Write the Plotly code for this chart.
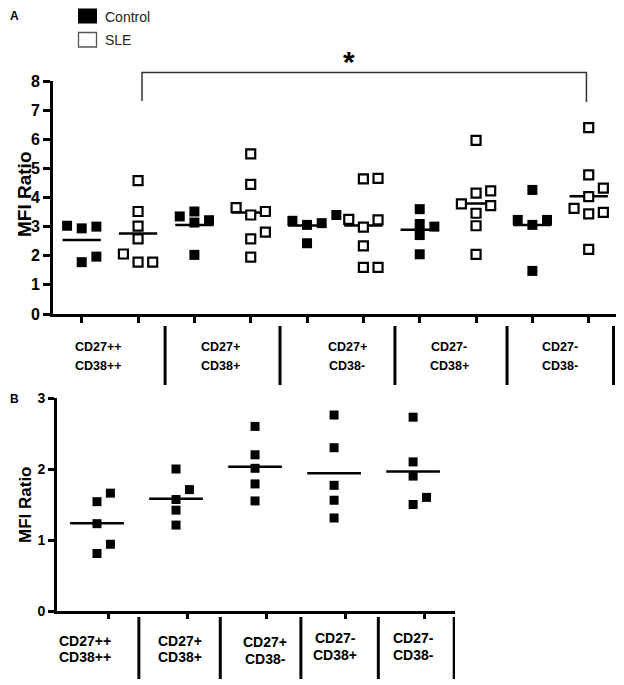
import plotly.graph_objects as go

# ---------------- data ----------------
cat_line1 = ["CD27++", "CD27+", "CD27+", "CD27-", "CD27-"]
cat_line2 = ["CD38++", "CD38+", "CD38-", "CD38+", "CD38-"]

# Panel A: MFI ratio, Control vs SLE, per subset
a_control = [
    [3.00, 2.94, 3.03, 1.78, 1.97],
    [3.22, 3.52, 3.14, 3.35, 2.03],
    [3.12, 3.40, 3.06, 3.20, 2.43],
    [3.60, 3.00, 2.71, 3.09, 2.05],
    [4.26, 3.23, 3.06, 3.23, 1.48],
]
a_sle = [
    [3.02, 4.58, 3.52, 2.58, 2.06, 1.78, 1.78],
    [3.65, 5.50, 4.45, 3.40, 3.52, 2.81, 2.58, 1.95],
    [4.66, 4.64, 3.23, 2.98, 3.25, 2.34, 1.60, 1.60],
    [5.96, 4.15, 4.23, 3.78, 3.72, 3.46, 3.03, 2.05],
    [6.40, 4.78, 4.32, 4.03, 3.63, 3.49, 3.44, 2.22],
]
# Panel B: MFI ratio per subset
b_vals = [
    [0.81, 0.94, 1.23, 1.54, 1.66],
    [1.57, 2.00, 1.71, 1.42, 1.21],
    [2.60, 2.20, 2.01, 1.79, 1.55],
    [2.76, 2.30, 1.77, 1.56, 1.31],
    [2.73, 2.10, 1.90, 1.60, 1.50],
]
a_yticks = list(range(0, 9))
b_yticks = list(range(0, 4))

# page body has an 8px margin: the figure occupies the rest of the 624x685 window
OFF = 8
W, H = 624 - OFF, 685 - OFF
FONT = "Liberation Sans, Arial, Helvetica, sans-serif"


def swarm(vals, thresh):
    """Column-scatter slots: points that would overlap get pushed sideways."""
    order = sorted(range(len(vals)), key=lambda i: vals[i])
    slots = [0] * len(vals)
    placed = []
    for i in order:
        for s in (0, 1, -1, 2, -2):
            if all(not (ps == s and abs(pv - vals[i]) < thresh) for pv, ps in placed):
                slots[i] = s
                placed.append((vals[i], s))
                break
    return slots


def mean(v):
    return sum(v) / len(v)


fig = go.Figure()

# ---------- Panel A ----------
A_OFF, A_THR, A_HALF = 0.26, 0.36, 0.34
for g in range(5):
    for k, (vals, filled) in enumerate([(a_control[g], True), (a_sle[g], False)]):
        cx = 2 * g + 1 + k
        m = mean(vals)
        fig.add_trace(go.Scatter(x=[cx - A_HALF, cx + A_HALF], y=[m, m], mode="lines",
                                 line=dict(color="black", width=2.5), xaxis="x", yaxis="y",
                                 showlegend=False, hoverinfo="skip"))
        slots = swarm(vals, A_THR)
        fig.add_trace(go.Scatter(
            x=[cx + s * A_OFF for s in slots], y=vals, mode="markers", xaxis="x", yaxis="y",
            showlegend=False,
            marker=dict(symbol="square", size=10 if filled else 9,
                        color="black" if filled else "white",
                        line=dict(color="black", width=0 if filled else 2.2))))

# ---------- Panel B ----------
B_OFF, B_THR, B_HALF = 0.17, 0.14, 0.34
for g in range(5):
    vals = b_vals[g]
    cx = g + 1
    m = mean(vals)
    fig.add_trace(go.Scatter(x=[cx - B_HALF, cx + B_HALF], y=[m, m], mode="lines",
                             line=dict(color="black", width=2.5), xaxis="x2", yaxis="y2",
                             showlegend=False, hoverinfo="skip"))
    slots = swarm(vals, B_THR)
    fig.add_trace(go.Scatter(
        x=[cx + s * B_OFF for s in slots], y=vals, mode="markers", xaxis="x2", yaxis="y2",
        showlegend=False, marker=dict(symbol="square", size=9, color="black")))


def px_x(p):
    return (p - OFF) / W


def px_y(p):
    return 1 - (p - OFF) / H


axis_common = dict(showline=True, linecolor="black", linewidth=3, showgrid=False,
                   zeroline=False, ticks="outside", tickcolor="black", mirror=False,
                   automargin=False)

fig.update_layout(
    width=W, height=H, margin=dict(l=0, r=0, t=0, b=0, pad=0, autoexpand=False),
    paper_bgcolor="white", plot_bgcolor="white", showlegend=False,
    font=dict(family=FONT, color="black"),
    xaxis=dict(domain=[px_x(53), px_x(618)], range=[0.49, 10.52], anchor="y",
               tickvals=list(range(1, 11)), showticklabels=False, ticklen=6, tickwidth=2.5,
               **axis_common),
    yaxis=dict(domain=[px_y(314), px_y(81)], range=[0, 8], anchor="x",
               tickvals=a_yticks, ticklen=7, tickwidth=2.5,
               tickfont=dict(size=16, family=FONT, weight="bold"), **axis_common),
    xaxis2=dict(domain=[px_x(57), px_x(455)], range=[0.494, 5.53], anchor="y2",
                tickvals=[g + 1.15 for g in range(5)], showticklabels=False, ticklen=5,
                tickwidth=2.5, **axis_common),
    yaxis2=dict(domain=[px_y(611), px_y(398)], range=[0, 3], anchor="x2",
                tickvals=b_yticks, ticklen=6, tickwidth=2.5,
                tickfont=dict(size=14, family=FONT, weight="bold"), **axis_common),
)

shapes = []
ann = []

# separators below the x axes
for xs in [2.48, 4.52, 6.56, 8.55, 10.44]:
    shapes.append(dict(type="line", xref="x", yref="paper", x0=xs, x1=xs,
                       y0=px_y(326), y1=px_y(385), line=dict(color="black", width=3)))
for xs in [1.53, 2.56, 3.58, 4.56, 5.52]:
    shapes.append(dict(type="line", xref="x2", yref="paper", x0=xs, x1=xs,
                       y0=px_y(617), y1=px_y(679), line=dict(color="black", width=3)))

# category labels
a_lab_x = [1.29, 3.47, 5.71, 7.52, 9.49]
for g in range(5):
    for txt, yp in [(cat_line1[g], 347), (cat_line2[g], 366)]:
        ann.append(dict(x=a_lab_x[g], y=px_y(yp), xref="x", yref="paper", text=txt,
                        showarrow=False, xanchor="center", yanchor="middle",
                        font=dict(size=12.5, family=FONT, weight="bold")))
b_lab_y = [(641, 657), (641, 657), (642, 659), (638, 655), (638, 655)]
b_lab_xpx = [85, 180, 265, 335, 413]
for g in range(5):
    for txt, yp in zip([cat_line1[g], cat_line2[g]], b_lab_y[g]):
        ann.append(dict(x=px_x(b_lab_xpx[g]), y=px_y(yp), xref="paper", yref="paper", text=txt,
                        showarrow=False, xanchor="center", yanchor="middle",
                        font=dict(size=14, family=FONT, weight="bold")))

# y-axis titles
ann.append(dict(x=px_x(24), y=px_y(194), xref="paper", yref="paper", text="MFI Ratio",
                textangle=-90, showarrow=False, xanchor="center", yanchor="middle",
                font=dict(size=19, family=FONT, weight="bold")))
ann.append(dict(x=px_x(25), y=px_y(505), xref="paper", yref="paper", text="MFI Ratio",
                textangle=-90, showarrow=False, xanchor="center", yanchor="middle",
                font=dict(size=17, family=FONT, weight="bold")))

# panel letters
for letter, yp in [("A", 16), ("B", 399)]:
    ann.append(dict(x=px_x(14), y=px_y(yp), xref="paper", yref="paper", text=letter,
                    showarrow=False, xanchor="center", yanchor="middle", borderpad=0,
                    font=dict(size=12, family=FONT, weight="bold")))

# legend
shapes.append(dict(type="rect", xref="paper", yref="paper", x0=px_x(78), x1=px_x(97),
                   y0=px_y(23.5), y1=px_y(8.5), fillcolor="black", line=dict(width=0)))
shapes.append(dict(type="rect", xref="paper", yref="paper", x0=px_x(78.5), x1=px_x(96.5),
                   y0=px_y(47), y1=px_y(32.5), fillcolor="white",
                   line=dict(color="#555555", width=1.3)))
for txt, yp in [("Control", 17), ("SLE", 40)]:
    ann.append(dict(x=px_x(104), y=px_y(yp), xref="paper", yref="paper", text=txt,
                    showarrow=False, xanchor="left", yanchor="middle", borderpad=0,
                    font=dict(size=14, family=FONT, color="#222222")))

# significance bracket
br_l, br_r = 2.07, 9.96
shapes.append(dict(type="path", xref="x", yref="paper",
                   path=f"M {br_l},{px_y(101)} L {br_l},{px_y(72.5)} L {br_r},{px_y(72.5)} L {br_r},{px_y(102)}",
                   line=dict(color="#333333", width=1.5)))
ann.append(dict(x=px_x(349), y=px_y(61), xref="paper", yref="paper", text="*",
                showarrow=False, xanchor="center", yanchor="middle",
                font=dict(size=30, family=FONT, weight="bold")))

fig.update_layout(shapes=shapes, annotations=ann)
fig.write_html("out.html")
